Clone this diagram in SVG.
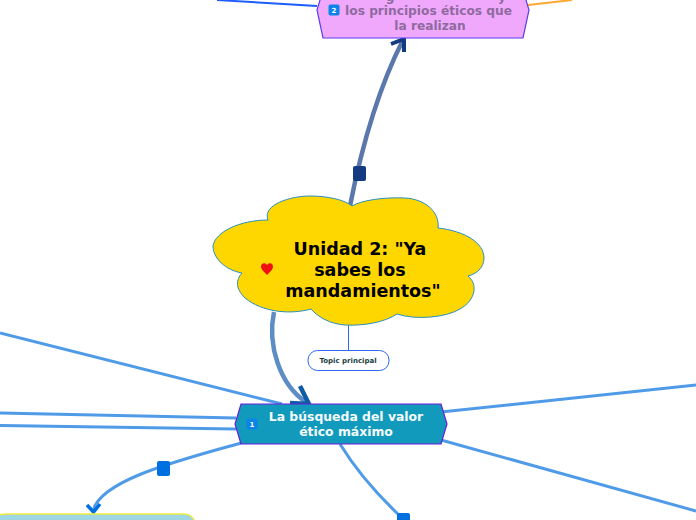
<svg xmlns="http://www.w3.org/2000/svg" width="696" height="520" viewBox="0 0 696 520">
<style>
text{font-family:"DejaVu Sans",sans-serif;font-weight:bold;text-anchor:middle}
.lb{fill:none;stroke:#4f9be8;stroke-width:3}
.mk{fill:#0070e0}
.ic{fill:#0a84e8}
.it{fill:#fff;font-size:7px}
.pk{font-size:12.200px;fill:#8e6a9e}
.bl{font-size:12.400px;fill:#f4fafc}
.ce{font-size:17.500px;fill:#000}
</style>
<rect width="696" height="520" fill="#fff"/>
<g id="connectors" fill="none">
<path d="M217,0 L317,6" stroke="#1f5cff" stroke-width="2"/>
<path d="M528,5 L572,0" stroke="#ffa733" stroke-width="2"/>
<path class="lb" d="M0,333 L282,404"/>
<path class="lb" d="M0,413 L236,418"/>
<path class="lb" d="M0,425.500 L236,429"/>
<path class="lb" d="M441,412 L696,385"/>
<path class="lb" d="M441,440 L696,511"/>
<path class="lb" d="M340,444 Q362,480 400,516"/>
<path class="lb" d="M241,443 C180,460 100,480 93,511"/>
<path d="M350,206 C363,140 380,85 403,40" stroke="#5b78ad" stroke-width="4.500"/>
<path d="M274,312 C267,345 280,385 306,402" stroke="#5c8dc5" stroke-width="4.500"/>
<path d="M391,44 L404,39 L404,52" stroke="#143a82" stroke-width="4"/>
<path d="M300,386 L309,404 L290,403" stroke="#0c5ba5" stroke-width="4.500"/>
<path d="M87,505 L93.500,512 L100,504" stroke="#0070e0" stroke-width="3.500"/>
<path d="M348.500,325 V350" stroke="#2a6af0" stroke-width="1"/>
</g>
<g id="marker-up"><rect x="353" y="166" width="13" height="15" rx="2" fill="#143a82"/></g>
<g id="marker-left"><rect class="mk" x="157" y="461" width="13" height="15" rx="2"/></g>
<g id="marker-down"><rect class="mk" x="397" y="513" width="13" height="15" rx="2"/></g>
<g id="node-central">
<path d="M268,220 C262,205 290,196 310,196 C328,196 345,200 352,206 C362,200 385,197 405,198 C425,199 440,212 438,228 C465,231 484,243 484,258 C484,268 476,274 468,276 C478,284 476,300 460,309 C445,318 415,320 397,314 C385,322 365,326 345,325 C330,324 318,317 311,309 C290,315 262,312 245,298 C235,288 236,280 242,273 C225,270 213,258 213,246 C215,232 240,220 268,220 Z" fill="#ffd700" stroke="#2a8fc0" stroke-width="1"/>
<path d="M267,275 C263,271 261,269 261,266.500 C261,263 265,262 267,265 C269,262 273,263 273,266.500 C273,269 271,271 267,275 Z" fill="#f01010"/>
<text class="ce" x="360" y="255">Unidad 2: "Ya</text>
<text class="ce" x="360" y="276">sabes los</text>
<text class="ce" x="363" y="297">mandamientos"</text>
</g>
<g id="node-topic">
<rect x="308" y="350.500" width="81" height="20" rx="9.500" fill="#fff" stroke="#2a6af0" stroke-width="1"/>
<text x="348" y="362.500" font-size="7" fill="#163e3e">Topic principal</text>
</g>
<g id="node-pink">
<path d="M323,-10 L523,-10 L529,10 L523,38 L323,38 L317,10 Z" fill="#f0a8fc" stroke="#5a3cf0" stroke-width="1.200"/>
<rect class="ic" x="328.500" y="4.500" width="11" height="11" rx="2"/>
<text class="it" x="334" y="12.500">2</text>
<text class="pk" x="390" y="1">g</text>
<text class="pk" x="502" y="1">y</text>
<text class="pk" x="428.500" y="15">los principios éticos que</text>
<text class="pk" x="430" y="30">la realizan</text>
</g>
<g id="node-blue">
<path d="M241,404 L441,404 L447,424 L441,444 L241,444 L235,424 Z" fill="#129abd" stroke="#6a1ddc" stroke-width="1.200"/>
<rect class="ic" x="246.500" y="418.500" width="11" height="11" rx="2"/>
<text class="it" x="252" y="426.500">1</text>
<text class="bl" x="346" y="421">La búsqueda del valor</text>
<text class="bl" x="346" y="436">ético máximo</text>
</g>
<g id="node-bottom">
<path d="M-10,526 V522 Q-6,514 6,514 H184 Q192,514 195,522 V526 Z" fill="#9ed6e4" stroke="#f0ec40" stroke-width="1.500"/>
</g>
</svg>
